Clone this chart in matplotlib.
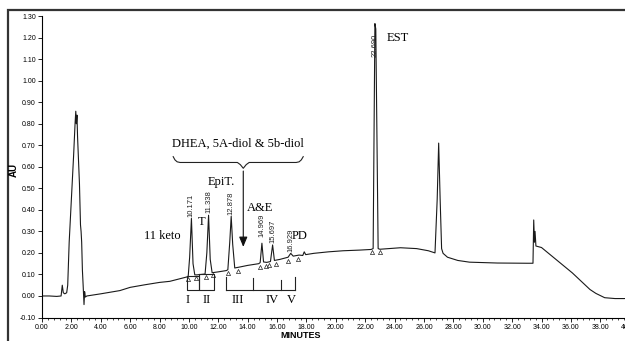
import numpy as np
import matplotlib
matplotlib.use("Agg")
import matplotlib.pyplot as plt
from matplotlib.patches import Rectangle
from matplotlib.ticker import MultipleLocator, FormatStrFormatter

# chromatogram trace (minutes, AU)
time = [0.00, 0.50, 1.00, 1.30, 1.38, 1.45, 1.55, 1.68, 1.75, 1.85, 2.00, 2.15,
        2.25, 2.30, 2.34, 2.38, 2.42, 2.55, 2.62, 2.66, 2.70, 2.75, 2.80, 2.86,
        2.90, 2.95, 3.05, 4.00, 5.30, 6.00, 7.00, 8.00, 8.70, 9.50, 9.84, 9.95,
        10.05, 10.171, 10.28, 10.40, 10.55, 11.10, 11.22, 11.338, 11.45, 11.58,
        12.00, 12.55, 12.65, 12.78, 12.878, 12.98, 13.12, 13.50, 14.00, 14.75,
        14.85, 14.969, 15.08, 15.30, 15.55, 15.697, 15.82, 16.20, 16.75, 16.929,
        17.10, 17.50, 17.75, 17.85, 17.95, 18.50, 19.50, 20.50, 21.60, 22.40,
        22.54, 22.66, 22.72, 22.88, 23.00, 24.40, 25.50, 26.30, 26.75, 26.90,
        27.00, 27.10, 27.20, 27.30, 27.60, 28.30, 29.10, 31.00, 33.00, 33.42,
        33.47, 33.52, 33.56, 33.62, 34.00, 36.10, 37.30, 37.70, 38.30, 39.00,
        40.50]
au = [0.000, 0.000, -0.002, 0.000, 0.050, 0.015, 0.010, 0.015, 0.050, 0.250,
      0.450, 0.650, 0.800, 0.858, 0.800, 0.840, 0.740, 0.520, 0.330, 0.300,
      0.250, 0.120, 0.050, -0.040, 0.020, -0.005, 0.000, 0.010, 0.025, 0.040,
      0.052, 0.063, 0.068, 0.082, 0.088, 0.090, 0.180, 0.360, 0.150, 0.098,
      0.098, 0.102, 0.200, 0.375, 0.170, 0.108, 0.112, 0.118, 0.122, 0.250,
      0.370, 0.240, 0.130, 0.135, 0.142, 0.150, 0.155, 0.245, 0.158, 0.156,
      0.160, 0.237, 0.165, 0.170, 0.180, 0.198, 0.185, 0.190, 0.188, 0.205,
      0.192, 0.198, 0.205, 0.210, 0.213, 0.216, 0.220, 1.265, 1.240, 0.220,
      0.217, 0.224, 0.220, 0.210, 0.200, 0.450, 0.710, 0.450, 0.220, 0.198,
      0.180, 0.165, 0.157, 0.153, 0.152, 0.152, 0.353, 0.250, 0.300, 0.232,
      0.225, 0.107, 0.030, 0.012, -0.008, -0.012, -0.012]

# retention time labels
rt_labels = ["10.171", "11.338", "12.878", "14.969", "15.697", "16.929", "22.690"]
rt_pos = [10.171, 11.338, 12.878, 14.969, 15.697, 16.929, 22.69]
rt_y = [0.368, 0.385, 0.376, 0.276, 0.247, 0.206, 1.11]

# peak base markers
mark_t = [9.95, 10.48, 11.16, 11.65, 12.67, 13.35, 14.83, 15.28, 15.46, 15.96,
          16.76, 17.44, 22.43, 23.04]
mark_y = [0.078, 0.085, 0.090, 0.097, 0.108, 0.115, 0.135, 0.138, 0.142, 0.148,
          0.164, 0.172, 0.202, 0.202]

# compound names
names = ["11 keto", "T", "EpiT.", "A&E", "PD", "EST"]
name_t = [8.2, 10.86, 12.2, 14.85, 17.55, 24.2]
name_y = [0.278, 0.345, 0.53, 0.41, 0.278, 1.20]

# fraction regions
frac_labels = ["I", "II", "III", "IV", "V"]
frac_t = [9.75, 10.95, 12.9, 15.25, 16.65]
frac_y = -0.02

fig = plt.figure(figsize=(6.25, 3.41), dpi=100)
fig.add_artist(Rectangle((8 / 625, -0.1), 1.2, 1.0707, transform=fig.transFigure,
                         fill=False, lw=1.6, ec="#333333"))
ax = fig.add_axes([0.0672, 0.0689, 0.952, 0.884])

ax.plot(time, au, color="#1a1a1a", lw=0.8)
ax.plot(mark_t, mark_y, ls="none", marker="^", ms=3, mfc="white", mec="#222222", mew=0.5)

for lab, t, y in zip(rt_labels, rt_pos, rt_y):
    ax.text(t, y, lab, rotation=90, ha="center", va="bottom", fontsize=5.5,
            family="Liberation Sans", color="#222222")

serif = "Liberation Serif"
for lab, t, y in zip(names, name_t, name_y):
    ax.text(t, y, lab, ha="center", va="center", fontsize=9, family=serif)

for lab, t in zip(frac_labels, frac_t):
    ax.text(t, frac_y, lab, ha="left", va="center", fontsize=9, family=serif)

# fraction boxes
box_l = [9.86, 10.70]
box_r = [10.70, 11.70]
box_top = [0.093, 0.102]
for l, r, top in zip(box_l, box_r, box_top):
    ax.plot([l, l, r, r, l], [top, 0.028, 0.028, top, top], color="#222222", lw=0.8)
div_t = [12.52, 14.39, 16.29, 17.24]
div_top = [0.09, 0.084, 0.076, 0.09]
ax.plot([div_t[0], div_t[-1]], [0.028, 0.028], color="#222222", lw=0.8)
for t, top in zip(div_t, div_top):
    ax.plot([t, t], [0.028, top], color="#222222", lw=0.8)

# brace and arrow for DHEA group
ax.text(13.36, 0.705, "DHEA, 5A-diol & 5b-diol", ha="center", va="center",
        fontsize=9, family=serif)
brace_t = [8.93, 9.05, 9.2, 9.4, 13.3, 13.5, 13.7, 13.9, 14.1, 17.3, 17.5, 17.65, 17.78]
brace_y = [0.647, 0.632, 0.623, 0.620, 0.620, 0.61, 0.593, 0.61, 0.620, 0.620, 0.623, 0.632, 0.647]
ax.plot(brace_t, brace_y, color="#222222", lw=0.8)
ax.annotate("", xy=(13.7, 0.215), xytext=(13.7, 0.593),
            arrowprops=dict(arrowstyle="-|>,head_length=0.6,head_width=0.25",
                            color="#111111", lw=0.8))

ax.set_xlim(0, 40.5)
ax.set_ylim(-0.10, 1.30)
ax.spines["top"].set_visible(False)
ax.spines["right"].set_visible(False)
for s in ["left", "bottom"]:
    ax.spines[s].set_linewidth(0.8)
ax.xaxis.set_major_locator(MultipleLocator(2))
ax.xaxis.set_minor_locator(MultipleLocator(0.4))
ax.yaxis.set_major_locator(MultipleLocator(0.1))
ax.xaxis.set_major_formatter(FormatStrFormatter("%.2f"))
ax.yaxis.set_major_formatter(FormatStrFormatter("%.2f"))
ax.tick_params(which="major", length=3, width=0.6, labelsize=5, pad=1.5)
ax.tick_params(which="minor", length=1.5, width=0.5)
for lab in ax.get_xticklabels() + ax.get_yticklabels():
    lab.set_family("Liberation Sans")

fig.text(14 / 625, 1 - 170 / 341, "AU", rotation=90, ha="center", va="center",
         fontsize=7, fontweight="bold", family="Liberation Sans")
fig.text(301 / 625, 1 - 336 / 341, "MINUTES", ha="center", va="center",
         fontsize=6.5, fontweight="bold", family="Liberation Sans")

fig.savefig("out.png", dpi=100)
